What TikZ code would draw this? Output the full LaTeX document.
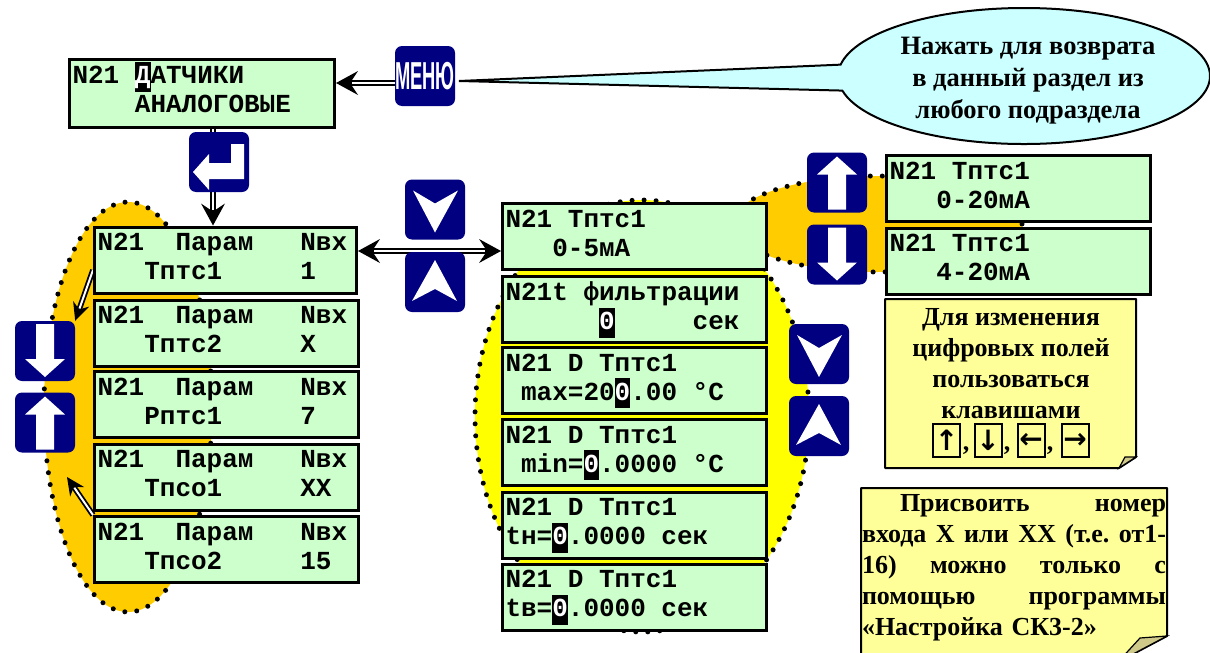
\documentclass[tikz,border=0pt]{standalone}
\usepackage{fontspec}
\setmainfont{Liberation Serif}
\setsansfont{Liberation Sans}
\setmonofont{Liberation Mono}
\newfontfamily\symfont{DejaVu Sans}
\usetikzlibrary{arrows.meta,shapes.callouts}
\definecolor{lcdGreen}{HTML}{CCFFCC}
\definecolor{noteYellow}{HTML}{FFFF99}
\definecolor{noteFold}{HTML}{CFC98A}
\definecolor{keyNavy}{HTML}{000080}
\definecolor{zoneGold}{HTML}{FFCC00}
\definecolor{zoneYellow}{HTML}{FFFF00}
\definecolor{calloutBlue}{HTML}{CCFFFF}
\pgfdeclarelayer{under}
\pgfsetlayers{under,main}
\newcommand\curs[1]{\smash{\rlap{\rule[-8pt]{15.6pt}{30pt}}}\textcolor{white}{#1}}
\newcommand\lcdfont{\ttfamily\bfseries\fontsize{26}{29}\selectfont\def~{\hspace*{15.6pt}}}
\tikzset{
  lcd/.style={draw=black, line width=3pt, fill=lcdGreen, align=left, inner xsep=3pt,
    inner ysep=0pt, minimum height=66pt, text width=#1, font=\lcdfont,
    execute at end node={\par\vspace*{7pt}}},
  lcd/.default=258pt,
  navkey/.style={fill=keyNavy, rounded corners=7pt, minimum width=60pt, minimum height=60pt, inner sep=0pt},
  zone dots/.style={draw=black, line width=5pt, line cap=round, dash pattern=on 0pt off 12pt},
  note text/.style={font=\bfseries\fontsize{26}{31}\selectfont, align=center, inner sep=0pt},
  note edge/.style={draw=black, line width=2pt, fill=noteYellow, line join=round},
  fold edge/.style={draw=black, line width=1.2pt, fill=noteFold},
  arrow key/.style={draw=black, line width=2pt, inner sep=0pt, minimum width=27pt, minimum height=33pt,
    font=\symfont\bfseries\fontsize{28}{28}\selectfont},
  key comma/.style={font=\bfseries\fontsize{26}{26}\selectfont, inner sep=0pt},
  big arrow/.style={line width=6.8pt, line cap=butt,
    -{Stealth[length=22pt,width=24pt,inset=8pt,line width=0pt]},
    postaction={draw=white, line width=2.2pt, -, shorten >=16pt}},
  both arrow/.style={line width=6.8pt, line cap=butt,
    {Stealth[length=22pt,width=24pt,inset=8pt,line width=0pt]}-{Stealth[length=22pt,width=24pt,inset=8pt,line width=0pt]},
    postaction={draw=white, line width=2.2pt, -, shorten >=16pt, shorten <=16pt}},
  small arrow/.style={line width=5.6pt, line cap=butt,
    -{Stealth[length=18pt,width=17pt,inset=6pt,line width=0pt]},
    postaction={draw=white, line width=2pt, -, shorten >=13pt}},
  keydown/.pic={\fill[white] (-9,-27) -- (9,-27) -- (9,8) -- (20,8) -- (0,26) -- (-20,8) -- (-9,8) -- cycle;},
  keyup/.pic={\fill[white] (-9,27) -- (9,27) -- (9,-8) -- (20,-8) -- (0,-26) -- (-20,-8) -- (-9,-8) -- cycle;},
  chevdown/.pic={\fill[white] (-22,-19) -- (0,-6) -- (23,-19) -- (0,23) -- cycle;},
  chevup/.pic={\fill[white] (0,-22) -- (22,19) -- (0,7) -- (-23,19) -- cycle;},
  keyenter/.pic={\fill[white] (-26,10) -- (-10,-8) -- (-10,1) -- (12,1) -- (12,-18) -- (25,-18)
    -- (25,17) -- (-10,17) -- (-10,28) -- cycle;}
}
\begin{document}
\begin{tikzpicture}[x=1pt,y=-1pt]
  \useasboundingbox (0,0) rectangle (1210,653);
  % zones behind the lists
  \begin{pgfonlayer}{under}
    \fill[zoneGold] (877,224) ellipse [x radius=145pt,y radius=48pt];
    \draw[zone dots] (877,224) ellipse [x radius=145pt,y radius=48pt];
    \fill[zoneGold] (128,407) ellipse [x radius=84pt,y radius=205pt];
    \draw[zone dots] (128,407) ellipse [x radius=84pt,y radius=205pt];
    \fill[zoneYellow] (642,416) ellipse [x radius=167pt,y radius=216pt];
    \draw[zone dots] (642,416) ellipse [x radius=167pt,y radius=216pt];
  \end{pgfonlayer}

  % top section
  \node[lcd=259pt,minimum height=68pt] (main) at (202,93) {N21~\curs{Д}АТЧИКИ\\~~~~АНАЛОГОВЫЕ};

  % input list
  \node[lcd=256pt] (left1) at (225.5,260) {N21~~Парам~~~Nвх\\~~~Тптс1~~~~~1};
  \node[lcd] (left2) at (226.5,333) {N21~~Парам~~~Nвх\\~~~Тптс2~~~~~X};
  \node[lcd] (left3) at (226.5,404.5) {N21~~Парам~~~Nвх\\~~~Рптс1~~~~~7};
  \node[lcd] (left4) at (226.5,477) {N21~~Парам~~~Nвх\\~~~Тпсо1~~~~~XX};
  \node[lcd] (left5) at (226.5,549.5) {N21~~Парам~~~Nвх\\~~~Тпсо2~~~~~15};

  % settings list
  \node[lcd] (mid1) at (634.5,236.5) {N21~Тптс1\\~~~0-5мА};
  \node[lcd] (mid2) at (634.5,309.5) {N21t~фильтрации\\~~~~~~\curs{0}~~~~~сек};
  \node[lcd] (mid3) at (634.5,380.5) {N21~D~Тптс1\\~max=20\curs{0}.00~°C};
  \node[lcd] (mid4) at (634.5,452.5) {N21~D~Тптс1\\~min=\curs{0}.0000~°C};
  \node[lcd] (mid5) at (634.5,525) {N21~D~Тптс1\\tн=\curs{0}.0000~сек};
  \node[lcd] (mid6) at (634.5,597) {N21~D~Тптс1\\tв=\curs{0}.0000~сек};

  % signal range
  \node[lcd] (range1) at (1018.5,188.5) {N21~Тптс1\\~~~0-20мА};
  \node[lcd] (range2) at (1018.5,261) {N21~Тптс1\\~~~4-20мА};

  % keys
  \node[navkey,font=\sffamily\bfseries\color{white}] (menu) at (425,76) {\scalebox{0.47}[1]{\fontsize{39}{39}\selectfont МЕНЮ}};
  \node[navkey] (enter) at (219,162) {};
  \pic at (enter) {keyenter};
  \node[navkey] (listdown) at (435,209.5) {};
  \pic at (listdown) {chevdown};
  \node[navkey] (listup) at (435,282) {};
  \pic at (listup) {chevup};
  \node[navkey] (leftdown) at (45,351) {};
  \pic at (leftdown) {keydown};
  \node[navkey] (leftup) at (45,422.5) {};
  \pic at (leftup) {keyup};
  \node[navkey] (rangeup) at (837,182.5) {};
  \pic at (rangeup) {keyup};
  \node[navkey] (rangedown) at (837,254.5) {};
  \pic at (rangedown) {keydown};
  \node[navkey] (middown) at (819,354) {};
  \pic at (middown) {chevdown};
  \node[navkey] (midup) at (819,426) {};
  \pic at (midup) {chevup};

  % connectors
  \coordinate (backtip) at (67,477);
  \begin{pgfonlayer}{under}
    \draw[big arrow] ([yshift=-7pt]menu.west) -- ([yshift=10pt]main.east);
    \draw[big arrow] ([xshift=11pt]main.south) -- ([xshift=-12.5pt]left1.north);
    \draw[both arrow] ([yshift=9pt]left1.east) -- ([yshift=-14.5pt]mid1.west);
    \draw[small arrow] ([yshift=-10pt]left1.west) -- (leftdown.north east);
    \draw[small arrow] (left5.north west) -- (backtip);
  \end{pgfonlayer}

  % callout
  \node[ellipse callout,draw=black,line width=2pt,fill=calloutBlue,minimum width=372pt,minimum height=136pt,
    inner sep=0pt,callout absolute pointer={(459,81)},callout pointer arc=22] (hint) at (1024,76) {};
  \node[note text,font=\bfseries\fontsize{26.5}{32}\selectfont] (hinttext) at (1028,81)
    {Нажать для возврата\\в данный раздел из\\любого подраздела};

  % notes
  \draw[note edge] (885,299) -- (1136,299) -- (1136,457) -- (1119,468) -- (885,468) -- cycle;
  \draw[fold edge] (1136,457) -- (1125,457) -- (1119,468) -- cycle;
  \node[note text] (keynote) at (1011,364) {Для изменения\\цифровых полей\\пользоваться\\клавишами};
  \node[arrow key] (keya) at (946.5,440.5) {↑};
  \node[arrow key] (keyb) at (988,440.5) {↓};
  \node[arrow key] (keyc) at (1031,440.5) {←};
  \node[arrow key] (keyd) at (1075,440.5) {→};
  \node[key comma] (commaa) at (966,451) {,};
  \node[key comma] (commab) at (1007,451) {,};
  \node[key comma] (commac) at (1050,451) {,};

  \draw[note edge] (861,488) -- (1167,488) -- (1167,636) -- (1118,662) -- (861,662) -- cycle;
  \draw[fold edge] (1167,636) -- (1140,638) -- (1118,662) -- cycle;
  \node[note text,align=left,text width=304pt] (inputnote) at (1014,568)
    {\hspace*{38pt}Присвоить\hfill номер\\входа\hfill Х\hfill или\hfill ХХ\hfill (т.е.\hfill от1-\\16)\hfill можно\hfill только\hfill с\\помощью\hfill программы\\«Настройка СК3-2»};
\end{tikzpicture}
\end{document}
